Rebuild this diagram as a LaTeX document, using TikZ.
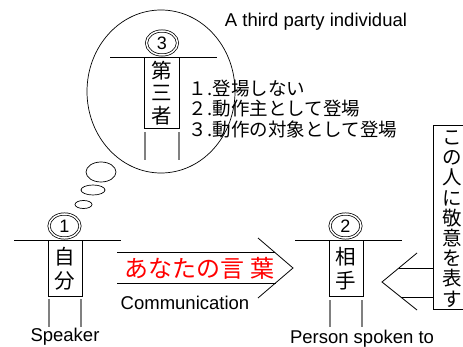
\documentclass[tikz,border=0pt]{standalone}
\usepackage{fontspec}
\setmainfont{Liberation Sans}
\newfontfamily\jp{Noto Sans CJK JP}
\usetikzlibrary{shapes.geometric}
\begin{document}
\begin{tikzpicture}[x=1pt,y=-1pt,
  every node/.style={inner sep=0pt},
  ln/.style={line width=0.8pt},
  leg/.style={line width=1.3pt, draw=black!50},
  fig/.style={draw, line width=0.8pt, minimum width=34pt, minimum height=56pt, font=\jp\fontsize{20.5}{24}\selectfont, align=center},
  num/.style={ellipse, draw, double, double distance=1.5pt, line width=0.75pt, minimum width=31pt, minimum height=24pt, font=\fontsize{18}{18}\selectfont},
  bub/.style={ellipse, draw, line width=0.7pt},
  lab/.style={font=\fontsize{18.5}{20}\selectfont},
  jlist/.style={anchor=west, font=\jp\fontsize{18.5}{20}\selectfont}]
\useasboundingbox (0,0) rectangle (463,347);

% thought bubble
\node[bub, minimum width=148pt, minimum height=163pt] (cloud) at (161,91.5) {};
\node[bub, minimum width=17pt, minimum height=8pt] (b1) at (83.5,204.5) {};
\node[bub, minimum width=24pt, minimum height=10pt] (b2) at (93,190) {};
\node[bub, minimum width=30pt, minimum height=20pt] (b3) at (101,172) {};

% figure 3
\draw[ln] (110,57) coordinate (a3l) -- (217,57) coordinate (a3r);
\node[fig, minimum width=35pt, minimum height=71pt, font=\jp\fontsize{20.5}{22.5}\selectfont, anchor=north] (f3) at (161.5,57) {第\\三\\者};
\draw[leg] (145,132) coordinate (l3a) -- (145,160) coordinate (l3b);
\draw[leg] (179,132) coordinate (l3c) -- (179,160) coordinate (l3d);
\node[num] (n3) at (162,43) {3};
\node[jlist] (li1) at (188,89) {１\kern1pt.登場しない};
\node[jlist] (li2) at (188,109) {２\kern1pt.動作主として登場};
\node[jlist] (li3) at (188,129) {３\kern1pt.動作の対象として登場};
\node[lab] (t3) at (316,22) {A third party individual};

% figure 1
\draw[ln] (14,240) coordinate (a1l) -- (121,240) coordinate (a1r);
\node[fig, anchor=north] (f1) at (65,240) {自\\分};
\draw[leg] (49,299) coordinate (l1a) -- (49,327) coordinate (l1b);
\draw[leg] (81,299) coordinate (l1c) -- (81,327) coordinate (l1d);
\node[num] (n1) at (64.5,226) {1};
\node[lab] (spk) at (65,337) {Speaker};

% figure 2
\draw[ln] (295,240) coordinate (a2l) -- (402,240) coordinate (a2r);
\node[fig, anchor=north] (f2) at (346,240) {相\\手};
\draw[leg] (330,300) coordinate (l2a) -- (330,327) coordinate (l2b);
\draw[leg] (362,300) coordinate (l2c) -- (362,327) coordinate (l2d);
\node[num] (n2) at (345.5,226) {2};
\node[lab] (psp) at (362,339) {Person spoken to};

% arrow to the right
\coordinate (rt) at (293,268);
\coordinate (ru) at (258,238);
\coordinate (rd) at (258,298);
\draw[ln] (ru) -- (rt) -- (rd);
\draw[ln] (117,252) coordinate (s1a) -- (274.5,252) coordinate (s1b);
\draw[ln] (117,283) coordinate (s2a) -- (275.5,283) coordinate (s2b);
\node[font=\jp\fontsize{24}{24}\selectfont, text={rgb,255:red,255;green,0;blue,0}] (msg) at (199,268) {あなたの言\hspace{6pt}葉};
\node[lab] (comm) at (185,303) {Communication};

% arrow to the left
\coordinate (lt) at (382,282);
\coordinate (lu) at (417,253);
\coordinate (ld) at (417,310);
\draw[ln] (lu) -- (lt) -- (ld);
\draw[ln] (399,268) coordinate (s3a) -- (433,268) coordinate (s3b);
\draw[ln] (400.5,297) coordinate (s4a) -- (433,297) coordinate (s4b);
\draw[ln] (470,125) coordinate (vb1) -| (433,309) -- (470,309) coordinate (vb2);
\node[font=\jp\fontsize{19.5}{20.2}\selectfont, align=center] (vt) at (452,219) {こ\\の\\人\\に\\敬\\意\\を\\表\\す};
\end{tikzpicture}
\end{document}
